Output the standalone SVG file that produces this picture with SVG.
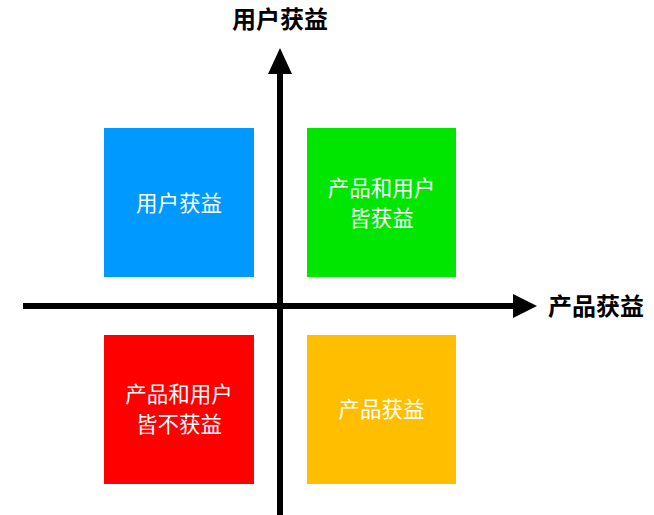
<svg xmlns="http://www.w3.org/2000/svg" width="654" height="515" viewBox="0 0 654 515">
<style>
.lbl{font-family:"Noto Sans CJK SC","Noto Sans",sans-serif;font-size:21.5px;fill:#fff;text-anchor:middle;dominant-baseline:central}
.ax{font-family:"Noto Sans CJK SC","Noto Sans",sans-serif;font-size:24px;font-weight:bold;fill:#000;text-anchor:middle;dominant-baseline:central}
.axis{stroke:#000;stroke-width:6;fill:none}
</style>
<rect width="654" height="515" fill="#fff"/>
<g id="connectors">
<line class="axis" x1="280" y1="515" x2="280" y2="72"/>
<polygon points="280,48 268,74 292,74" fill="#000"/>
<line class="axis" x1="23" y1="306" x2="515" y2="306"/>
<polygon points="537,306 513,294 513,318" fill="#000"/>
</g>
<g id="y-label"><text class="ax" x="280" y="17">用户获益</text></g>
<g id="x-label"><text class="ax" x="596" y="304">产品获益</text></g>
<g id="user"><rect x="104" y="128" width="150" height="149" fill="#0099ff"/><text class="lbl" x="179" y="201">用户获益</text></g>
<g id="both"><rect x="307" y="128" width="149" height="149" fill="#00e600"/><text class="lbl" x="381.5" y="186.5">产品和用户</text><text class="lbl" x="381.5" y="216.5">皆获益</text></g>
<g id="none"><rect x="104" y="335" width="150" height="149" fill="#ff0000"/><text class="lbl" x="179" y="392">产品和用户</text><text class="lbl" x="179" y="422">皆不获益</text></g>
<g id="product"><rect x="307" y="335" width="149" height="149" fill="#ffbf00"/><text class="lbl" x="381.5" y="407">产品获益</text></g>
</svg>
